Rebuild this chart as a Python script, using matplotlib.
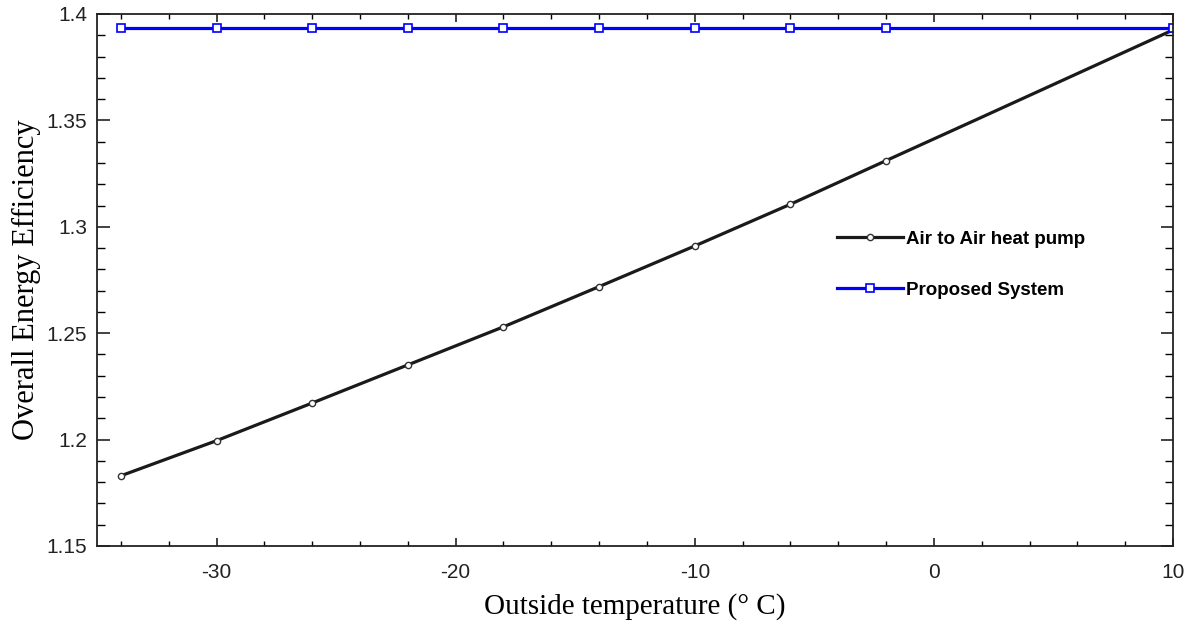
import matplotlib
matplotlib.use("Agg")
import matplotlib.pyplot as plt
from matplotlib.ticker import MultipleLocator, FuncFormatter

plt.rcParams["axes.unicode_minus"] = False

temps = [-34, -30, -26, -22, -18, -14, -10, -6, -2, 2, 6, 10]
air_to_air = [1.1830, 1.1995, 1.2172, 1.2351, 1.2530, 1.2719, 1.2910, 1.3106, 1.3311, 1.3515, 1.3720, 1.3925]
proposed = [1.3934] * len(temps)

series_labels = ["Air to Air heat pump", "Proposed System"]
x_label = "Outside temperature (\u00b0 C)"
y_label = "Overall Energy Efficiency"

fig = plt.figure(figsize=(11.95, 6.27), dpi=100)
ax = fig.add_axes([97 / 1195, 81 / 627, 1076 / 1195, 532 / 627])

mk = [0, 1, 2, 3, 4, 5, 6, 7, 8]
ax.plot(temps, air_to_air, color="#1a1a1a", lw=2.3, marker="o", ms=4.5,
        mfc="white", mec="#333333", mew=1.0, markevery=mk, label=series_labels[0])
ax.plot(temps, proposed, color="#0000ff", lw=2.3, marker="s", ms=6.0,
        mfc="white", mec="#0000ff", mew=1.2, markevery=mk + [11], label=series_labels[1])

ax.set_xlim(-35, 10)
ax.set_ylim(1.15, 1.4)
ax.xaxis.set_major_locator(MultipleLocator(10))
ax.xaxis.set_minor_locator(MultipleLocator(2))
ax.yaxis.set_major_locator(MultipleLocator(0.05))
ax.yaxis.set_minor_locator(MultipleLocator(0.01))
ax.yaxis.set_major_formatter(FuncFormatter(lambda v, p: ("%.2f" % v).rstrip("0").rstrip(".")))

ax.tick_params(axis="both", which="both", direction="in", top=True, right=True)
ax.tick_params(axis="x", which="major", length=6, width=1.2, pad=12)
ax.tick_params(axis="x", which="minor", length=3.5, width=1.0)
ax.tick_params(axis="y", which="major", length=9, width=1.2, pad=7)
ax.tick_params(axis="y", which="minor", length=5.5, width=1.0)
ax.tick_params(axis="both", which="major", labelsize=15, colors="#222222")
for lab in ax.get_xticklabels() + ax.get_yticklabels():
    lab.set_fontfamily("Liberation Sans")
for s in ax.spines.values():
    s.set_linewidth(1.3)
    s.set_color("#222222")

ax.set_xlabel(x_label, fontfamily="Liberation Serif", fontsize=21, labelpad=8)
ax.set_ylabel(y_label, fontfamily="Liberation Serif", fontsize=22, labelpad=4)

leg = ax.legend(loc="upper left", bbox_to_anchor=(0.672, 0.624), frameon=False,
                handlelength=3.5, handletextpad=0.2, labelspacing=1.8,
                prop={"family": "Liberation Sans", "weight": "bold", "size": 13.5})

fig.savefig("out.png", dpi=100)
